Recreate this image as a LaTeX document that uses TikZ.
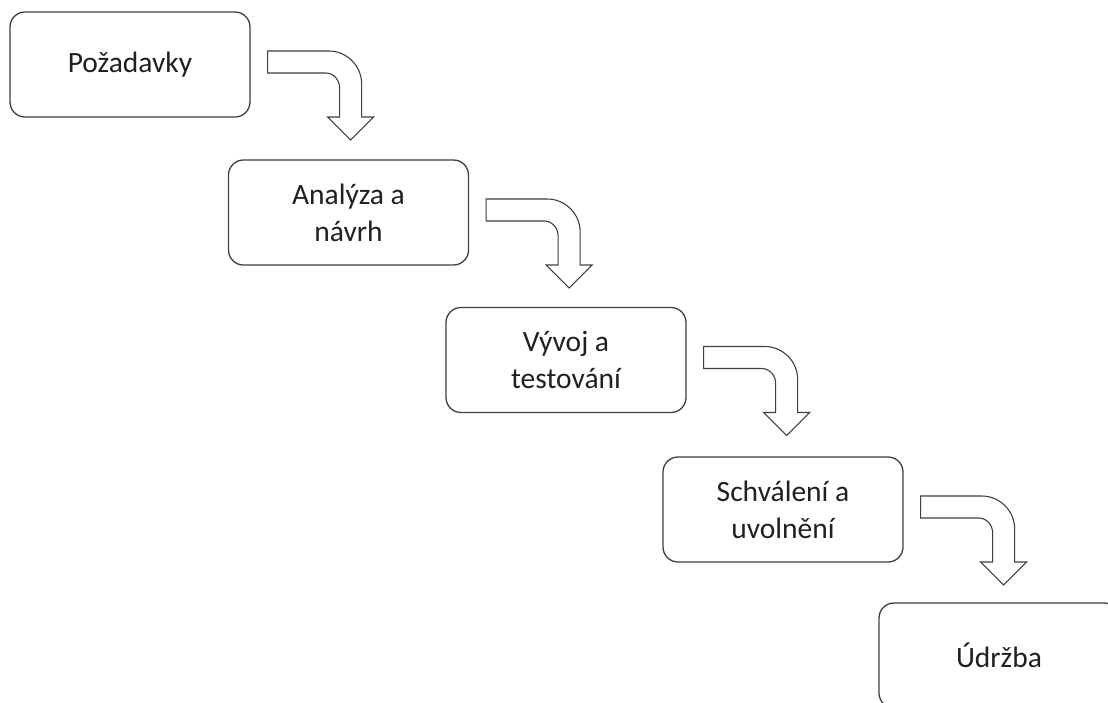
\documentclass[tikz,border=0pt]{standalone}
\usepackage{fontspec}
\setmainfont{Carlito}
\definecolor{edge}{HTML}{404040}
\definecolor{txt}{HTML}{202020}
\tikzset{
  stage/.style={draw=edge, line width=1.3pt, rounded corners=15pt, fill=white,
    minimum width=240pt, minimum height=105pt, inner sep=0pt, align=center,
    text=txt, font=\fontsize{29.5}{37}\selectfont},
  barrow/.style={draw=edge, line width=1.1pt, fill=white, line join=miter}
}
\newcommand\bentarrow[1]{%
  \draw[barrow, shift={(#1.east)}]
    (17,-13.5) -- (78,-13.5)
    .. controls (96.2,-13.5) and (111,1.3) .. (111,19.5)
    -- (111,52.5) -- (123,52.5) -- (100,75.5) -- (77,52.5) -- (89,52.5)
    -- (89,23.5)
    .. controls (89,15.2) and (82.7,8.5) .. (75,8.5)
    -- (17,8.5) -- cycle;}
\begin{document}
\begin{tikzpicture}[x=1pt, y=-1pt]
\clip (0,0) rectangle (1108,702);
\fill[white] (0,0) rectangle (1108,702);
\node[stage] (b1) at (130,64.5) {Požadavky};
\node[stage] (b2) at (348.5,212.5) {Analýza a\\návrh};
\node[stage] (b3) at (566,360) {Vývoj a\\testování};
\node[stage] (b4) at (783,509.5) {Schválení a\\uvolnění};
\node[stage] (b5) at (999,655.5) {Údržba};
\bentarrow{b1}
\bentarrow{b2}
\bentarrow{b3}
\bentarrow{b4}
\end{tikzpicture}
\end{document}
